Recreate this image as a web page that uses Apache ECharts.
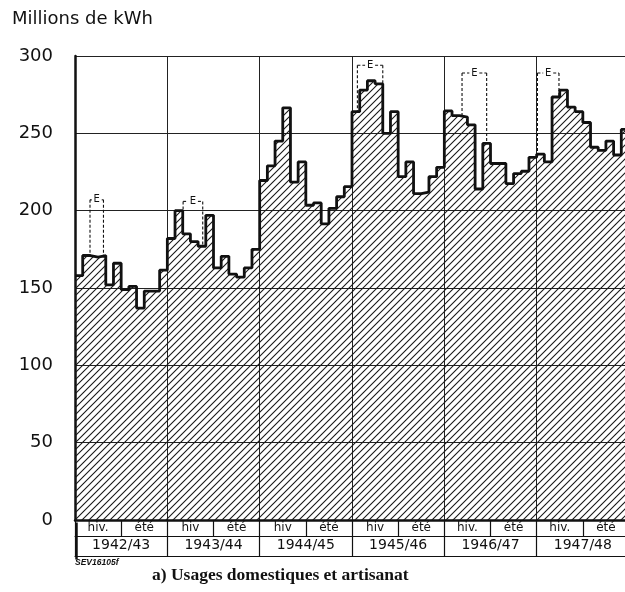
<!DOCTYPE html>
<html>
<head>
<meta charset="utf-8">
<script src="https://cdn.jsdelivr.net/npm/echarts@6/dist/echarts.min.js"></script>
<style>
  html, body { margin: 0; padding: 0; background: #fff; overflow: hidden; }
  #chart { width: 640px; height: 592px; }
</style>
</head>
<body>
<div id="chart"></div>
<script>
// Monthly values (Millions de kWh), October to September of each year
const y1942_43 = [158, 171, 170, 171, 152, 166, 149, 151, 137, 148, 148, 161.5];
const y1943_44 = [182, 200, 185, 180, 177, 197, 163, 170.5, 159, 157, 163, 175];
const y1944_45 = [219.5, 229, 245, 266.5, 218.5, 231.5, 203.5, 205, 191.5, 201.5, 209, 215.5];
const y1945_46 = [264, 278, 284, 282, 250, 264, 222, 231.5, 211, 212, 222, 228];
const y1946_47 = [264.5, 261.5, 260.5, 255.5, 214, 243.5, 230.5, 230.5, 217.5, 224, 225.5, 234.5];
const y1947_48 = [236.5, 231.5, 273.5, 278, 267, 264, 257, 241, 239, 245, 236, 252.5];

const yearLabels = ['1942/43', '1943/44', '1944/45', '1945/46', '1946/47', '1947/48'];
const seasonLabels = ['hiv.', 'été', 'hiv', 'été', 'hiv', 'été', 'hiv', 'été', 'hiv.', 'été', 'hiv.', 'été'];
const yTicks = [0, 50, 100, 150, 200, 250, 300];

// "E" restriction brackets: start month, end month (from Oct 1942), top level
const eStart = [1.95, 14.05, 36.7, 50.3, 60.1];
const eEnd   = [3.7, 16.6, 40.0, 53.5, 62.9];
const eTop   = [207, 206, 294, 289, 289];

const values = [].concat(y1942_43, y1943_44, y1944_45, y1945_46, y1946_47, y1947_48);
const nMonths = values.length;
const stepData = values.map((v, i) => [i, v]).concat([[nMonths, values[nMonths - 1]]]);
const bracketData = eStart.map((s, i) => [s, eEnd[i], eTop[i]]);

// diagonal hatch pattern "/" (lower-left to upper-right)
const T = 14;
const tile = document.createElement('canvas');
tile.width = T; tile.height = T;
const tc = tile.getContext('2d');
tc.strokeStyle = '#1a1a1a';
tc.lineWidth = 1.1;
tc.beginPath();
for (let k = -T; k <= 2 * T; k += 7) {
  tc.moveTo(k + 2, -2); tc.lineTo(k - T - 2, T + 2);
}
tc.stroke();

const ink = '#111';
const chart = echarts.init(document.getElementById('chart'));

chart.setOption({
  animation: false,
  backgroundColor: '#fff',
  grid: { left: 75, top: 56, width: 554, height: 464 },
  xAxis: [
    {
      type: 'value', min: 0, max: nMonths, interval: 12,
      axisLine: { show: true, lineStyle: { color: ink, width: 2.5 } },
      axisTick: { show: false }, axisLabel: { show: false },
      splitLine: { show: true, lineStyle: { color: '#222', width: 1 } }
    },
    {
      type: 'category', position: 'bottom', offset: 0,
      data: seasonLabels.map((_, i) => i), boundaryGap: true,
      axisLine: { show: false },
      axisTick: { show: true, interval: 0, length: 16.7, lineStyle: { color: ink, width: 1.2 } },
      axisLabel: { interval: 0, margin: 2, fontSize: 12, color: ink, fontFamily: 'DejaVu Sans',
        formatter: (v, i) => seasonLabels[i] },
      splitLine: { show: false }
    },
    {
      type: 'category', position: 'bottom', offset: 16.7,
      data: yearLabels, boundaryGap: true,
      axisLine: { show: true, lineStyle: { color: ink, width: 1 } },
      axisTick: { show: true, interval: 0, length: 20, lineStyle: { color: ink, width: 1.2 } },
      axisLabel: { interval: 0, margin: 2, fontSize: 14, color: ink, fontFamily: 'DejaVu Sans' },
      splitLine: { show: false }
    },
    {
      type: 'value', position: 'bottom', offset: 36.7, min: 0, max: nMonths,
      axisLine: { show: true, lineStyle: { color: ink, width: 1 } },
      axisTick: { show: false }, axisLabel: { show: false }, splitLine: { show: false }
    }
  ],
  yAxis: {
    type: 'value', min: yTicks[0], max: yTicks[yTicks.length - 1], interval: yTicks[1] - yTicks[0],
    axisLine: { show: true, lineStyle: { color: ink, width: 2.5 } },
    axisTick: { show: false },
    axisLabel: { margin: 22, fontSize: 18, color: ink, fontFamily: 'DejaVu Sans' },
    splitLine: { show: true, lineStyle: { color: '#222', width: 1 } }
  },
  series: [
    {
      type: 'line', step: 'end', data: stepData, symbol: 'none',
      xAxisIndex: 0, yAxisIndex: 0,
      lineStyle: { color: ink, width: 2.8 },
      areaStyle: { color: { image: tile, repeat: 'repeat' }, opacity: 1 },
      z: 3
    },
    {
      type: 'custom', xAxisIndex: 0, yAxisIndex: 0, data: bracketData,
      encode: { x: [0, 1], y: 2 }, z: 4,
      renderItem: function (params, api) {
        const x0 = api.value(0), x1 = api.value(1), top = api.value(2);
        const b0 = values[Math.floor(x0)], b1 = values[Math.floor(x1)];
        const pTL = api.coord([x0, top]), pTR = api.coord([x1, top]);
        const pBL = api.coord([x0, b0]), pBR = api.coord([x1, b1]);
        const mid = (pTL[0] + pTR[0]) / 2;
        const st = { stroke: ink, lineWidth: 1.1, lineDash: [3, 2], fill: null };
        return {
          type: 'group',
          children: [
            { type: 'line', shape: { x1: pTL[0], y1: pTL[1], x2: pBL[0], y2: pBL[1] }, style: st },
            { type: 'line', shape: { x1: pTR[0], y1: pTR[1], x2: pBR[0], y2: pBR[1] }, style: st },
            { type: 'line', shape: { x1: pTL[0], y1: pTL[1], x2: mid - 5, y2: pTL[1] }, style: st },
            { type: 'line', shape: { x1: mid + 5, y1: pTR[1], x2: pTR[0], y2: pTR[1] }, style: st },
            { type: 'text', style: { x: mid, y: pTL[1], text: 'E', fill: ink, fontSize: 10,
              fontFamily: 'DejaVu Sans', align: 'center', verticalAlign: 'middle' } }
          ]
        };
      }
    }
  ],
  graphic: [
    { type: 'text', left: 12, top: 10, style: { text: 'Millions de kWh', fontSize: 18,
      fontFamily: 'DejaVu Sans', fill: ink } },
    { type: 'text', left: 75, top: 558, style: { text: 'SEV16105f', fontSize: 8.5,
      fontStyle: 'italic', fontWeight: 'bold', fontFamily: 'Liberation Sans', fill: ink } },
    { type: 'text', left: 152, top: 566, style: { text: 'a) Usages domestiques et artisanat',
      fontSize: 17.5, fontWeight: 'bold', fontFamily: 'Liberation Serif', fill: ink } },
    { type: 'line', left: 74, top: 520, shape: { x1: 0, y1: 0, x2: 0, y2: 37 },
      style: { stroke: ink, lineWidth: 2.5 } }
  ]
});
</script>
</body>
</html>
